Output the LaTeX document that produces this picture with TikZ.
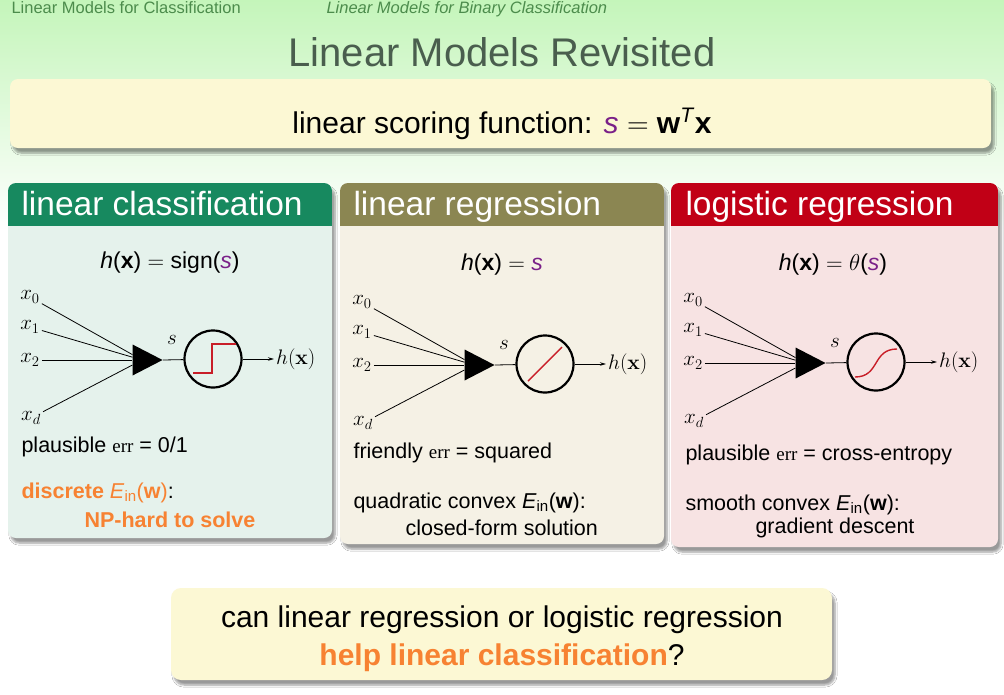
\RequirePackage{fix-cm}
\documentclass[tikz,border=0pt]{standalone}
\usepackage[no-math]{fontspec}
\setmainfont{Liberation Sans}
\newfontfamily\errfont{Liberation Serif}
\usetikzlibrary{shapes.geometric,shadows.blur,arrows.meta}
\definecolor{bgtop}{HTML}{C4F5BA}
\definecolor{navgreen}{HTML}{4C8C4C}
\definecolor{titlegray}{HTML}{4A5E4E}
\definecolor{notebox}{HTML}{FCF8D4}
\definecolor{hdrA}{HTML}{17895F}
\definecolor{hdrB}{HTML}{8B8652}
\definecolor{hdrC}{HTML}{C10016}
\definecolor{bodyA}{HTML}{E5F2EC}
\definecolor{bodyB}{HTML}{F5F1E5}
\definecolor{bodyC}{HTML}{F7E3E3}
\definecolor{spurple}{HTML}{7A2088}
\definecolor{hilite}{HTML}{F78232}
\definecolor{stepred}{HTML}{C81E28}
\newcommand{\errw}{{\errfont\fontsize{19}{22}\selectfont err}}
\newcommand{\Einw}{\textit{E}\textsubscript{in}(\textbf{w})}
\begin{document}
\begin{tikzpicture}[x=1pt, y=-1pt,
	boxshadow/.style={blur shadow={shadow xshift=3pt, shadow yshift=-5pt, shadow blur steps=6}},
	navtext/.style={anchor=base west, text=navgreen, font=\fontsize{16.5}{18}\selectfont},
	hdrtext/.style={anchor=base west, text=white, font=\fontsize{33.5}{38}\selectfont},
	formula/.style={anchor=base, font=\fontsize{23}{27}\selectfont},
	bodytext/.style={anchor=base west, font=\fontsize{21.5}{25}\selectfont},
	bigtext/.style={anchor=base, font=\fontsize{30}{36}\selectfont},
	xlab/.style={inner sep=2pt, font=\fontsize{21}{24}\selectfont},
	sumtri/.style={isosceles triangle, isosceles triangle stretches, fill=black,
		minimum width=31pt, minimum height=30pt, inner sep=0pt},
	actcirc/.style={circle, draw, line width=2.2pt, minimum size=57pt, inner sep=0pt},
	wire/.style={line width=0.8pt},
	redcurve/.style={stepred, line width=1.4pt}]
	\useasboundingbox (0,0) rectangle (1004,694);
	% Fondo con degradado verde
	\fill[white] (0,0) rectangle (1004,694);
	\shade[top color=bgtop, bottom color=white] (0,0) rectangle (1004,230);
	% Cabecera y titulo
	\node[navtext] (navA) at (8,13) {Linear Models for Classification};
	\node[navtext, font=\fontsize{16.5}{18}\selectfont\itshape] (navB) at (323,13)
		{Linear Models for Binary Classification};
	\node[anchor=base, text=titlegray, font=\fontsize{40}{48}\selectfont] (title) at (502,66)
		{Linear Models Revisited};
	% Caja superior: funcion de puntuacion
	\fill[notebox, rounded corners=8pt, boxshadow] (10,79) rectangle (991,148);
	\node[bigtext] (score) at (502,133) {linear scoring function:
		\textcolor{spurple}{\textit{s}}~$=$~\textbf{w}\textsuperscript{\textit{T}}\textbf{x}};
	% Panel izquierdo: linear classification
	\fill[bodyA, rounded corners=8pt, boxshadow] (8,183) rectangle (332,538);
	\begin{scope}
		\clip[rounded corners=8pt] (8,183) rectangle (332,538);
		\fill[hdrA] (8,183) rectangle (332,226);
	\end{scope}
	\node[hdrtext] (hdA) at (18,215) {linear classification};
	\node[formula] (fA) at (170,268)
		{\textit{h}(\textbf{x})~$=$~sign(\textcolor{spurple}{\textit{s}})};
	\node[bodytext] (errA) at (18,452) {plausible \errw{} = 0/1};
	\node[bodytext, text=hilite] (einA) at (18,498) {\textbf{discrete} \Einw\textcolor{black}{:}};
	\node[bodytext, text=hilite] (npA) at (81,527) {\textbf{NP-hard to solve}};
	% Panel central: linear regression
	\fill[bodyB, rounded corners=8pt, boxshadow] (340,183) rectangle (664,544);
	\begin{scope}
		\clip[rounded corners=8pt] (340,183) rectangle (664,544);
		\fill[hdrB] (340,183) rectangle (664,226);
	\end{scope}
	\node[hdrtext] (hdB) at (350,215) {linear regression};
	\node[formula] (fB) at (502,270) {\textit{h}(\textbf{x})~$=$~\textcolor{spurple}{\textit{s}}};
	\node[bodytext] (errB) at (350,458) {friendly \errw{} = squared};
	\node[bodytext] (einB) at (350,508) {quadratic convex \Einw:};
	\node[bodytext] (solB) at (402,535) {closed-form solution};
	% Panel derecho: logistic regression
	\fill[bodyC, rounded corners=8pt, boxshadow] (671,183) rectangle (998,547);
	\begin{scope}
		\clip[rounded corners=8pt] (671,183) rectangle (998,547);
		\fill[hdrC] (671,183) rectangle (998,226);
	\end{scope}
	\node[hdrtext] (hdC) at (682,215) {logistic regression};
	\node[formula] (fC) at (833,270)
		{\textit{h}(\textbf{x})~$=$~$\theta$(\textcolor{spurple}{\textit{s}})};
	\node[bodytext] (errC) at (682,460) {plausible \errw{} = cross-entropy};
	\node[bodytext] (einC) at (682,510) {smooth convex \Einw:};
	\node[bodytext] (solC) at (752,533) {gradient descent};
	% Neuronas (una por panel)
	\foreach \p/\dx/\dy in {A/0/0, B/332/5, C/663/3} {
		\begin{scope}[shift={(\dx,\dy)}]
			\node[xlab] (x0\p) at (30,297) {$x_0$};
			\node[xlab] (x1\p) at (30,327) {$x_1$};
			\node[xlab] (x2\p) at (30,360) {$x_2$};
			\node[xlab] (xd\p) at (31,418) {$x_d$};
			\node[sumtri] (tri\p) at (142,360) {};
			\node[actcirc] (circ\p) at (213,359) {};
			\node[xlab] (s\p) at (172,340) {$s$};
			\node[xlab, anchor=west] (h\p) at (274,359) {$h(\mathbf{x})$};
			\draw[wire] (x0\p) -- (tri\p);
			\draw[wire] (x1\p) -- (tri\p);
			\draw[wire] (x2\p) -- (tri\p);
			\draw[wire] (xd\p) -- (tri\p);
			\draw[wire] (tri\p.apex) -- (circ\p);
			\draw[wire, -{Stealth[length=6pt, width=3.5pt]}] (circ\p) -- (h\p);
		\end{scope}
	}
	% Funciones de activacion
	\draw[redcurve] ([shift={(-20,14)}]circA.center) -- ++(19,0) -- ++(0,-29) -- ++(24,0);
	\draw[redcurve] ([shift={(-17,17)}]circB.center) -- ([shift={(17,-17)}]circB.center);
	\draw[redcurve] ([shift={(-21,15)}]circC.center) .. controls ([shift={(4,15)}]circC.center)
		and ([shift={(-4,-13)}]circC.center) .. ([shift={(21,-13)}]circC.center);
	% Caja inferior: pregunta
	\fill[notebox, rounded corners=10pt, boxshadow] (171,588) rectangle (832,680);
	\node[bigtext] (qA) at (502,627) {can linear regression or logistic regression};
	\node[bigtext] (qB) at (502,665) {\textbf{\textcolor{hilite}{help linear classification}}?};
\end{tikzpicture}
\end{document}
